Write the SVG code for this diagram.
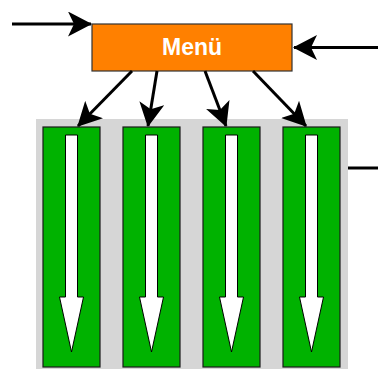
<svg xmlns="http://www.w3.org/2000/svg" width="378" height="369" viewBox="0 0 378 369">
<style>
.lane{fill:#00b200;stroke:#1a1a1a;stroke-width:1.2}
.flow{fill:#ffffff;stroke:#000000;stroke-width:1}
.conn{stroke:#000000;stroke-width:3;fill:none}
.menu{fill:#ff8000;stroke:#333333;stroke-width:1.2}
.label{font-family:"Liberation Sans",Arial,sans-serif;font-weight:bold;font-size:23px;fill:#ffffff}
</style>
<defs>
<marker id="ah" viewBox="0 0 24 25" markerWidth="24" markerHeight="25" refX="23" refY="12.5" orient="auto" markerUnits="userSpaceOnUse">
<path d="M0,0 L24,12.5 L0,25 L6,12.5 z" fill="#000000"/>
</marker>
<polygon id="flowArrow" points="22.5,8 34.5,8 34.5,170 40.5,170 28.5,225 16.5,170 22.5,170"/>
</defs>
<rect id="background" x="36" y="119" width="312" height="250" fill="#d6d6d6"/>
<g id="lane1"><rect class="lane" x="43" y="127" width="57" height="240"/><use href="#flowArrow" class="flow" x="43" y="127"/></g>
<g id="lane2"><rect class="lane" x="123" y="127" width="57" height="240"/><use href="#flowArrow" class="flow" x="123" y="127"/></g>
<g id="lane3"><rect class="lane" x="203" y="127" width="57" height="240"/><use href="#flowArrow" class="flow" x="203" y="127"/></g>
<g id="lane4"><rect class="lane" x="283" y="127" width="57" height="240"/><use href="#flowArrow" class="flow" x="283" y="127"/></g>
<g id="menu"><rect class="menu" x="92" y="24" width="200" height="47"/><text class="label" x="192" y="55" text-anchor="middle">Menü</text></g>
<g id="connectors">
<path class="conn" d="M12,24 L91,24" marker-end="url(#ah)"/>
<path class="conn" d="M378,47.5 L294,47.5" marker-end="url(#ah)"/>
<path class="conn" d="M132,71 L78,126" marker-end="url(#ah)"/>
<path class="conn" d="M157,71 L148,126" marker-end="url(#ah)"/>
<path class="conn" d="M205,71 L226,126" marker-end="url(#ah)"/>
<path class="conn" d="M253,71 L306,126" marker-end="url(#ah)"/>
<path class="conn" d="M348,168 L378,168"/>
</g>
</svg>
